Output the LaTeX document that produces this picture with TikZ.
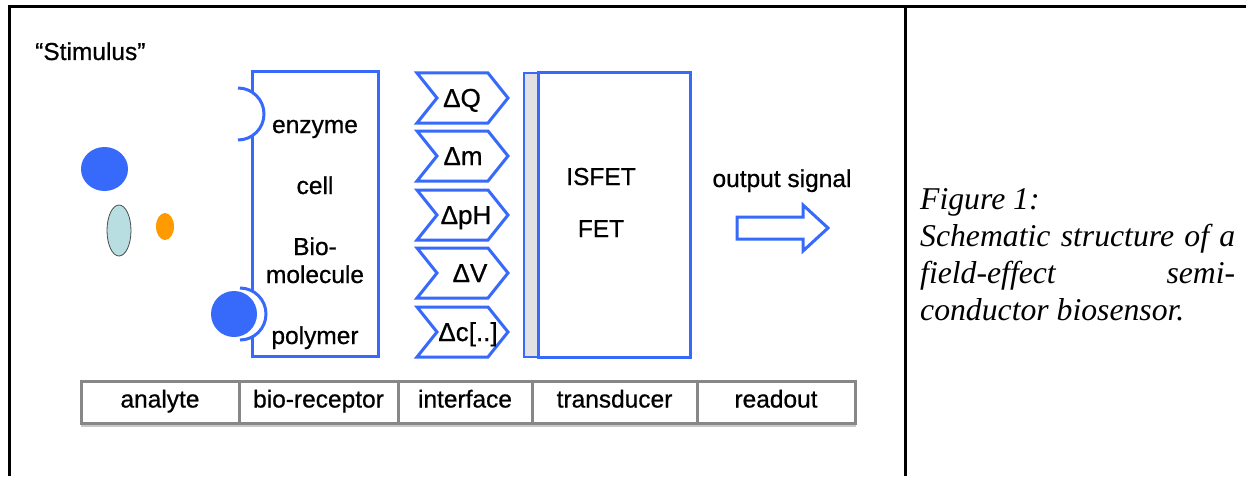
\documentclass[tikz,border=0pt]{standalone}
\usepackage{fontspec}
\setmainfont{Liberation Sans}
\newfontfamily\heavysans{Liberation Sans}[FakeBold=0.7]
\newfontfamily\capfont{Liberation Serif}
\usetikzlibrary{shapes.geometric}
\definecolor{sensorblue}{RGB}{55,105,250}
\definecolor{cellgray}{RGB}{135,135,135}
\definecolor{shadowgray}{RGB}{200,200,200}
\definecolor{tealcell}{RGB}{184,222,226}
\definecolor{orangecell}{RGB}{255,155,0}
\definecolor{stripgray}{RGB}{226,226,228}

\begin{document}
\begin{tikzpicture}[x=1pt,y=-1pt,
  txt/.style={font=\heavysans\fontsize{24.5}{28}\selectfont, inner sep=0pt, anchor=base},
  captxt/.style={font=\capfont\itshape\fontsize{31.7}{36}\selectfont, inner sep=0pt, anchor=base west},
  bluebox/.style={draw=sensorblue, line width=3pt, inner sep=0pt},
  blueline/.style={draw=sensorblue, line width=3pt},
  cellbox/.style={draw=cellgray, line width=3pt, inner sep=0pt, minimum height=42pt,
    text height=16pt, text depth=5pt, font=\heavysans\fontsize{24.5}{28}\selectfont},
  frameline/.style={line width=3pt, black}
]
\useasboundingbox (0,0) rectangle (1246,476);
\fill[white] (0,0) rectangle (1246,476);

% outer frame and column separator
\draw[frameline] (7.5,6.5) -- (1246,6.5);
\draw[frameline] (9,5) -- (9,476);
\draw[frameline] (905,5) -- (905,476);

% stimulus heading
\node[txt, anchor=base west] (stim) at (35,60) {“Stimulus”};

% analytes
\node[ellipse, fill=sensorblue, inner sep=0pt, minimum width=47pt, minimum height=44pt] (ana1) at (104.5,169) {};
\node[ellipse, draw=black!70, line width=0.8pt, fill=tealcell, inner sep=0pt, minimum width=24pt, minimum height=51pt] (ana2) at (119,230.5) {};
\node[ellipse, fill=orangecell, inner sep=0pt, minimum width=18pt, minimum height=27pt] (ana3) at (165,226.5) {};

% bio-receptor box
\node[bluebox, minimum width=126pt, minimum height=284pt] (bio) at (315,214) {};
\node[txt] (enz) at (315,133) {enzyme};
\node[txt] (cell) at (315,194) {cell};
\node[txt] (bio1) at (315,255) {Bio-};
\node[txt] (bio2) at (315,283) {molecule};
\node[txt] (poly) at (315,344) {polymer};

% receptor cups on the box edge
\fill[white] (238,88) arc[start angle=-90, end angle=90, radius=26] -- cycle;
\draw[blueline] (238,88) arc[start angle=-90, end angle=90, radius=26];
\fill[white] (240,288) arc[start angle=-90, end angle=90, radius=26] -- cycle;
\draw[blueline] (240,288) arc[start angle=-90, end angle=90, radius=26];
\node[circle, fill=sensorblue, inner sep=0pt, minimum size=46pt] (bound) at (234,314) {};

% interface chevrons
\foreach \t/\lx/\lab/\nm in {73/462/ΔQ/dq, 131/463/Δm/dm, 190/466/ΔpH/dph, 248/470/ΔV/dv, 307/468/Δc[..]/dc}{
  \draw[blueline, line join=miter] (417,\t) -- (488,\t) -- (508,\t+25) -- (488,\t+50)
    -- (417,\t+50) -- (437,\t+25) -- cycle;
  \node[txt, font=\heavysans\fontsize{26}{30}\selectfont] (\nm) at (\lx,\t+34) {\lab};
}

% sensitive layer and transducer
\node[draw=sensorblue, line width=2pt, fill=stripgray, inner sep=0pt, minimum width=14pt, minimum height=284pt] (strip) at (531,215) {};
\node[bluebox, minimum width=152pt, minimum height=284pt] (trans) at (614,215) {};
\node[txt] (isfet) at (601,185) {ISFET};
\node[txt] (fet) at (601,237) {FET};

% readout
\node[txt] (out) at (782,187) {output signal};
\draw[blueline, line join=miter] (737,217) -- (803,217) -- (803,205) -- (828,228)
  -- (803,251) -- (803,239) -- (737,239) -- cycle;

% stage table
\draw[shadowgray, line width=2.5pt] (81,426) -- (856,426);
\foreach \a/\b/\lab/\nm in {81/239/analyte/colA, 239/398/bio-receptor/colB, 398/532/interface/colC, 532/697/transducer/colD, 697/855/readout/colE}{
  \node[cellbox, minimum width={(\b-\a)*1pt}] (\nm) at ({(\a+\b)/2},402) {\lab};
}

% caption
\node[captxt] (cap1) at (920,209) {Figure 1:};
\node[captxt] (cap2) at (920,246) {\makebox[315pt][s]{Schematic structure of a}};
\node[captxt] (cap3) at (920,283) {\makebox[315pt][s]{field-effect semi-}};
\node[captxt] (cap4) at (920,320) {conductor biosensor.};
\end{tikzpicture}
\end{document}
